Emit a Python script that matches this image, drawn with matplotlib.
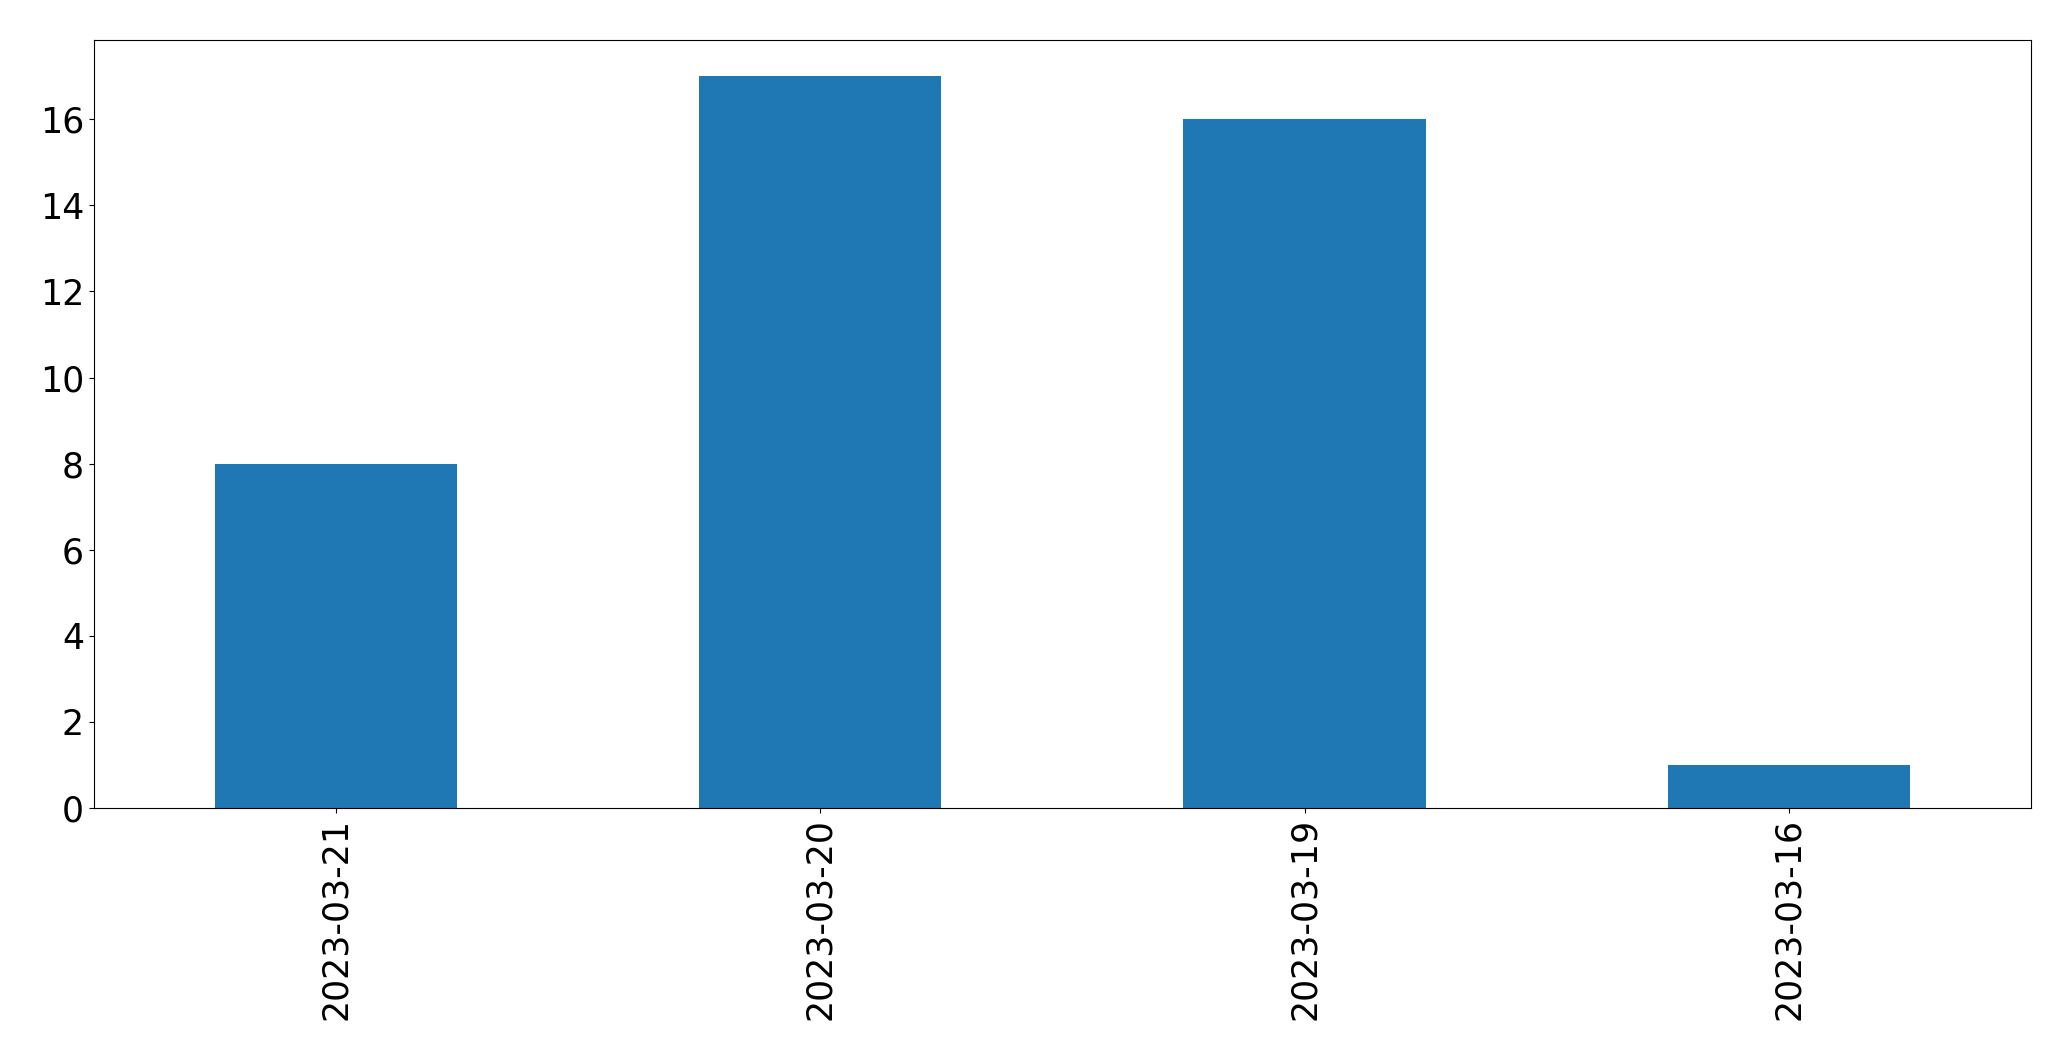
import matplotlib
matplotlib.use("Agg")
import matplotlib.pyplot as plt

dates = ["2023-03-21", "2023-03-20", "2023-03-19", "2023-03-16"]
counts = [8, 17, 16, 1]

fig = plt.figure(figsize=(20.71, 10.61), dpi=100)
ax = fig.add_axes([93.8/2071, 1 - 808/1061, (2031-93.8)/2071, (808-39.6)/1061])
x = list(range(len(dates)))
ax.bar(x, counts, width=0.5, color="#1f77b4")
ax.set_xticks(x)
ax.set_xticklabels(dates, rotation=90)
ax.set_xlim(-0.5, len(dates) - 0.5)
ax.tick_params(labelsize=25)
fig.savefig("out.png", dpi=100)
